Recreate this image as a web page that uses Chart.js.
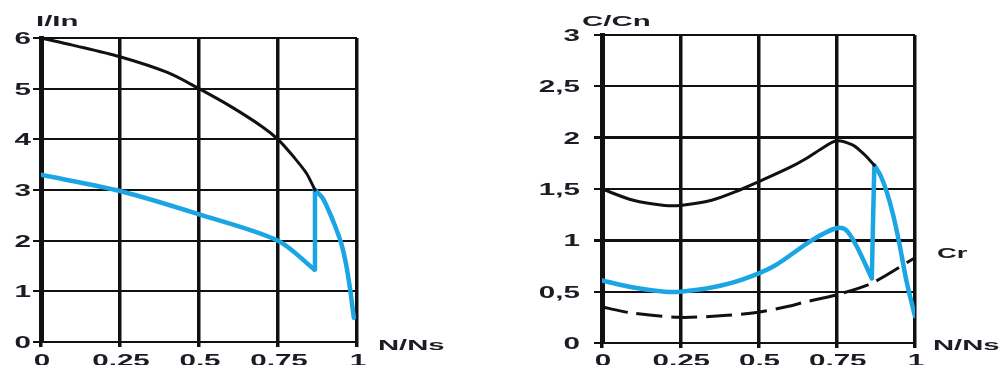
<!DOCTYPE html>
<html>
<head>
<meta charset="utf-8">
<title>I/In et C/Cn en fonction de N/Ns</title>
<script src="https://cdn.jsdelivr.net/npm/chart.js@4.4.0/dist/chart.umd.min.js"></script>
<style>
  html, body { margin: 0; padding: 0; background: #ffffff; }
  #wrap { position: relative; width: 1003px; height: 365px; overflow: hidden; }
  .panel { position: absolute; top: 0; height: 365px; }
  #p1 { left: 0; width: 500px; }
  #p2 { left: 500px; width: 503px; }
  canvas { display: block; }
</style>
</head>
<body>
<div id="wrap">
  <div class="panel" id="p1"><canvas id="c1" width="500" height="365"></canvas></div>
  <div class="panel" id="p2"><canvas id="c2" width="503" height="365"></canvas></div>
</div>
<script>
// Speed axis N/Ns (shared by both panels)
const speedTicks = [0, 0.25, 0.5, 0.75, 1];
const speedTickLabels = ['0', '0,25', '0,5', '0,75', '1'];

// Current axis I/In
const currentTicks = [0, 1, 2, 3, 4, 5, 6];
const currentTickLabels = ['0', '1', '2', '3', '4', '5', '6'];

// Torque axis C/Cn
const torqueTicks = [0, 0.5, 1, 1.5, 2, 2.5, 3];
const torqueTickLabels = ['0', '0,5', '1', '1,5', '2', '2,5', '3'];

// Current, direct-on-line start
const dolCurrentSpeed = [0, 0.1, 0.25, 0.4, 0.5, 0.6, 0.7, 0.75, 0.8, 0.84, 0.867];
const dolCurrent      = [6, 5.86, 5.63, 5.32, 5.0, 4.65, 4.25, 4.0, 3.65, 3.33, 3.0];

// Current, reduced-voltage phase
const reducedCurrentSpeed = [0, 0.25, 0.5, 0.75, 0.865];
const reducedCurrent      = [3.3, 2.98, 2.52, 2.0, 1.43];
// Current after switching to full voltage
const fullCurrentSpeed = [0.867, 0.89, 0.91, 0.93, 0.95, 0.965, 0.978, 0.99];
const fullCurrent      = [3.0, 2.85, 2.6, 2.3, 1.95, 1.55, 1.05, 0.48];

// Torque, direct-on-line start
const dolTorqueSpeed = [0, 0.1, 0.2, 0.25, 0.35, 0.44, 0.5, 0.6, 0.654, 0.7, 0.75, 0.8, 0.83, 0.85, 0.87];
const dolTorque      = [1.5, 1.39, 1.34, 1.34, 1.39, 1.49, 1.57, 1.71, 1.8, 1.89, 1.97, 1.93, 1.86, 1.8, 1.73];

// Torque, reduced-voltage phase
const reducedTorqueSpeed = [0, 0.1, 0.2, 0.25, 0.35, 0.45, 0.55, 0.67, 0.75, 0.78, 0.814, 0.862];
const reducedTorque      = [0.61, 0.54, 0.5, 0.5, 0.54, 0.62, 0.75, 1.0, 1.12, 1.1, 0.94, 0.63];
// Torque after switching to full voltage
const fullTorqueSpeed = [0.87, 0.89, 0.91, 0.93, 0.95, 0.973, 1.0];
const fullTorque      = [1.73, 1.63, 1.47, 1.25, 0.97, 0.6, 0.26];

// Resistant (load) torque Cr
const loadTorqueSpeed = [0, 0.1, 0.25, 0.4, 0.5, 0.6, 0.65, 0.75, 0.86, 1.0];
const loadTorque      = [0.35, 0.29, 0.25, 0.27, 0.3, 0.36, 0.4, 0.47, 0.58, 0.83];

const INK = '#111111';
const BLUE = '#1ba6e3';
const TEXT = '#1c1c24';
const FONT = '"Liberation Sans", Arial, Helvetica, sans-serif';

function toPoints(xs, ys) {
  return xs.map((x, i) => ({ x: x, y: ys[i] }));
}

// Bold, horizontally widened lettering
function wideText(ctx, text, x, y, align, size, sx) {
  ctx.save();
  ctx.font = 'bold ' + size + 'px ' + FONT;
  ctx.fillStyle = TEXT;
  ctx.textBaseline = 'alphabetic';
  ctx.textAlign = align;
  ctx.translate(x, y);
  ctx.scale(sx, 1);
  ctx.fillText(text, 0, 0);
  ctx.restore();
}

function curve(xs, ys, color, width, dash) {
  return {
    data: toPoints(xs, ys),
    showLine: true,
    borderColor: color,
    backgroundColor: color,
    borderWidth: width,
    borderDash: dash || [],
    borderCapStyle: dash ? 'butt' : 'round',
    borderJoinStyle: 'round',
    tension: 0.3,
    pointRadius: 0,
    fill: false
  };
}

// Straight switching step joining the end of one phase to the start of the next
function step(xa, ya, xb, yb, color, width) {
  const last = xa.length - 1;
  const d = curve([xa[last], xb[0]], [ya[last], yb[0]], color, width);
  d.tension = 0;
  return d;
}

function makePanel(canvasId, p) {
  const canvas = document.getElementById(canvasId);
  const W = canvas.width, H = canvas.height;

  const labelPlugin = {
    id: 'wideLabels',
    afterDraw(chart) {
      const ctx = chart.ctx;
      const xs = chart.scales.x, ys = chart.scales.y;
      speedTicks.forEach((v, i) => {
        wideText(ctx, speedTickLabels[i], xs.getPixelForValue(v) + 1, 366, 'center', 16, 1.85);
      });
      p.yTicks.forEach((v, i) => {
        wideText(ctx, p.yLabels[i], p.yLabelRight, ys.getPixelForValue(v) + 6, 'right', 16, 1.85);
      });
      p.titles.forEach(t => wideText(ctx, t.text, t.x, t.y, 'left', t.size, t.sx));
    }
  };

  return new Chart(canvas, {
    type: 'scatter',
    data: { datasets: p.datasets },
    options: {
      responsive: false,
      animation: false,
      devicePixelRatio: 1,
      layout: { padding: { top: p.area.top, right: W - p.area.right, left: 0, bottom: 0 } },
      plugins: { legend: { display: false }, tooltip: { enabled: false } },
      scales: {
        x: {
          type: 'linear',
          min: 0, max: 1,
          afterBuildTicks: s => { s.ticks = speedTicks.map(v => ({ value: v })); },
          afterFit: s => { s.height = H - p.area.bottom; },
          ticks: { display: false },
          grid: { color: INK, lineWidth: 3.5, tickLength: 5, drawTicks: true },
          border: { display: true, color: INK, width: 2 }
        },
        y: {
          type: 'linear',
          min: 0, max: p.yMax,
          afterBuildTicks: s => { s.ticks = p.yTicks.map(v => ({ value: v })); },
          afterFit: s => { s.width = p.area.left; },
          ticks: { display: false },
          grid: { color: INK, lineWidth: p.hLineWidth, tickLength: 8, drawTicks: true },
          border: { display: true, color: INK, width: 5 }
        }
      }
    },
    plugins: [labelPlugin]
  });
}

// Left panel: current ratio
makePanel('c1', {
  area: { left: 41, right: 357, top: 38, bottom: 342 },
  yMax: 6,
  yTicks: currentTicks,
  yLabels: currentTickLabels,
  yLabelRight: 31,
  hLineWidth: 2,
  datasets: [
    curve(dolCurrentSpeed, dolCurrent, INK, 3),
    curve(reducedCurrentSpeed, reducedCurrent, BLUE, 4.5),
    step(reducedCurrentSpeed, reducedCurrent, fullCurrentSpeed, fullCurrent, BLUE, 4.5),
    curve(fullCurrentSpeed, fullCurrent, BLUE, 4.5)
  ],
  titles: [
    { text: 'I/In', x: 36, y: 26, size: 14, sx: 2.1 },
    { text: 'N/Ns', x: 378, y: 350, size: 15, sx: 1.95 }
  ]
});

// Right panel: torque ratio
makePanel('c2', {
  area: { left: 102, right: 415, top: 35, bottom: 343 },
  yMax: 3,
  yTicks: torqueTicks,
  yLabels: torqueTickLabels,
  yLabelRight: 80,
  hLineWidth: c => (c.tick && (c.tick.value === 1 || c.tick.value === 2)) ? 3 : 2,
  datasets: [
    curve(dolTorqueSpeed, dolTorque, INK, 3),
    curve(loadTorqueSpeed, loadTorque, INK, 3, [26, 9]),
    curve(reducedTorqueSpeed, reducedTorque, BLUE, 4.5),
    step(reducedTorqueSpeed, reducedTorque, fullTorqueSpeed, fullTorque, BLUE, 4.5),
    curve(fullTorqueSpeed, fullTorque, BLUE, 4.5)
  ],
  titles: [
    { text: 'C/Cn', x: 82, y: 26, size: 14, sx: 2.1 },
    { text: 'Cr', x: 437, y: 258, size: 14, sx: 1.95 },
    { text: 'N/Ns', x: 433, y: 350, size: 15, sx: 1.95 }
  ]
});
</script>
</body>
</html>
